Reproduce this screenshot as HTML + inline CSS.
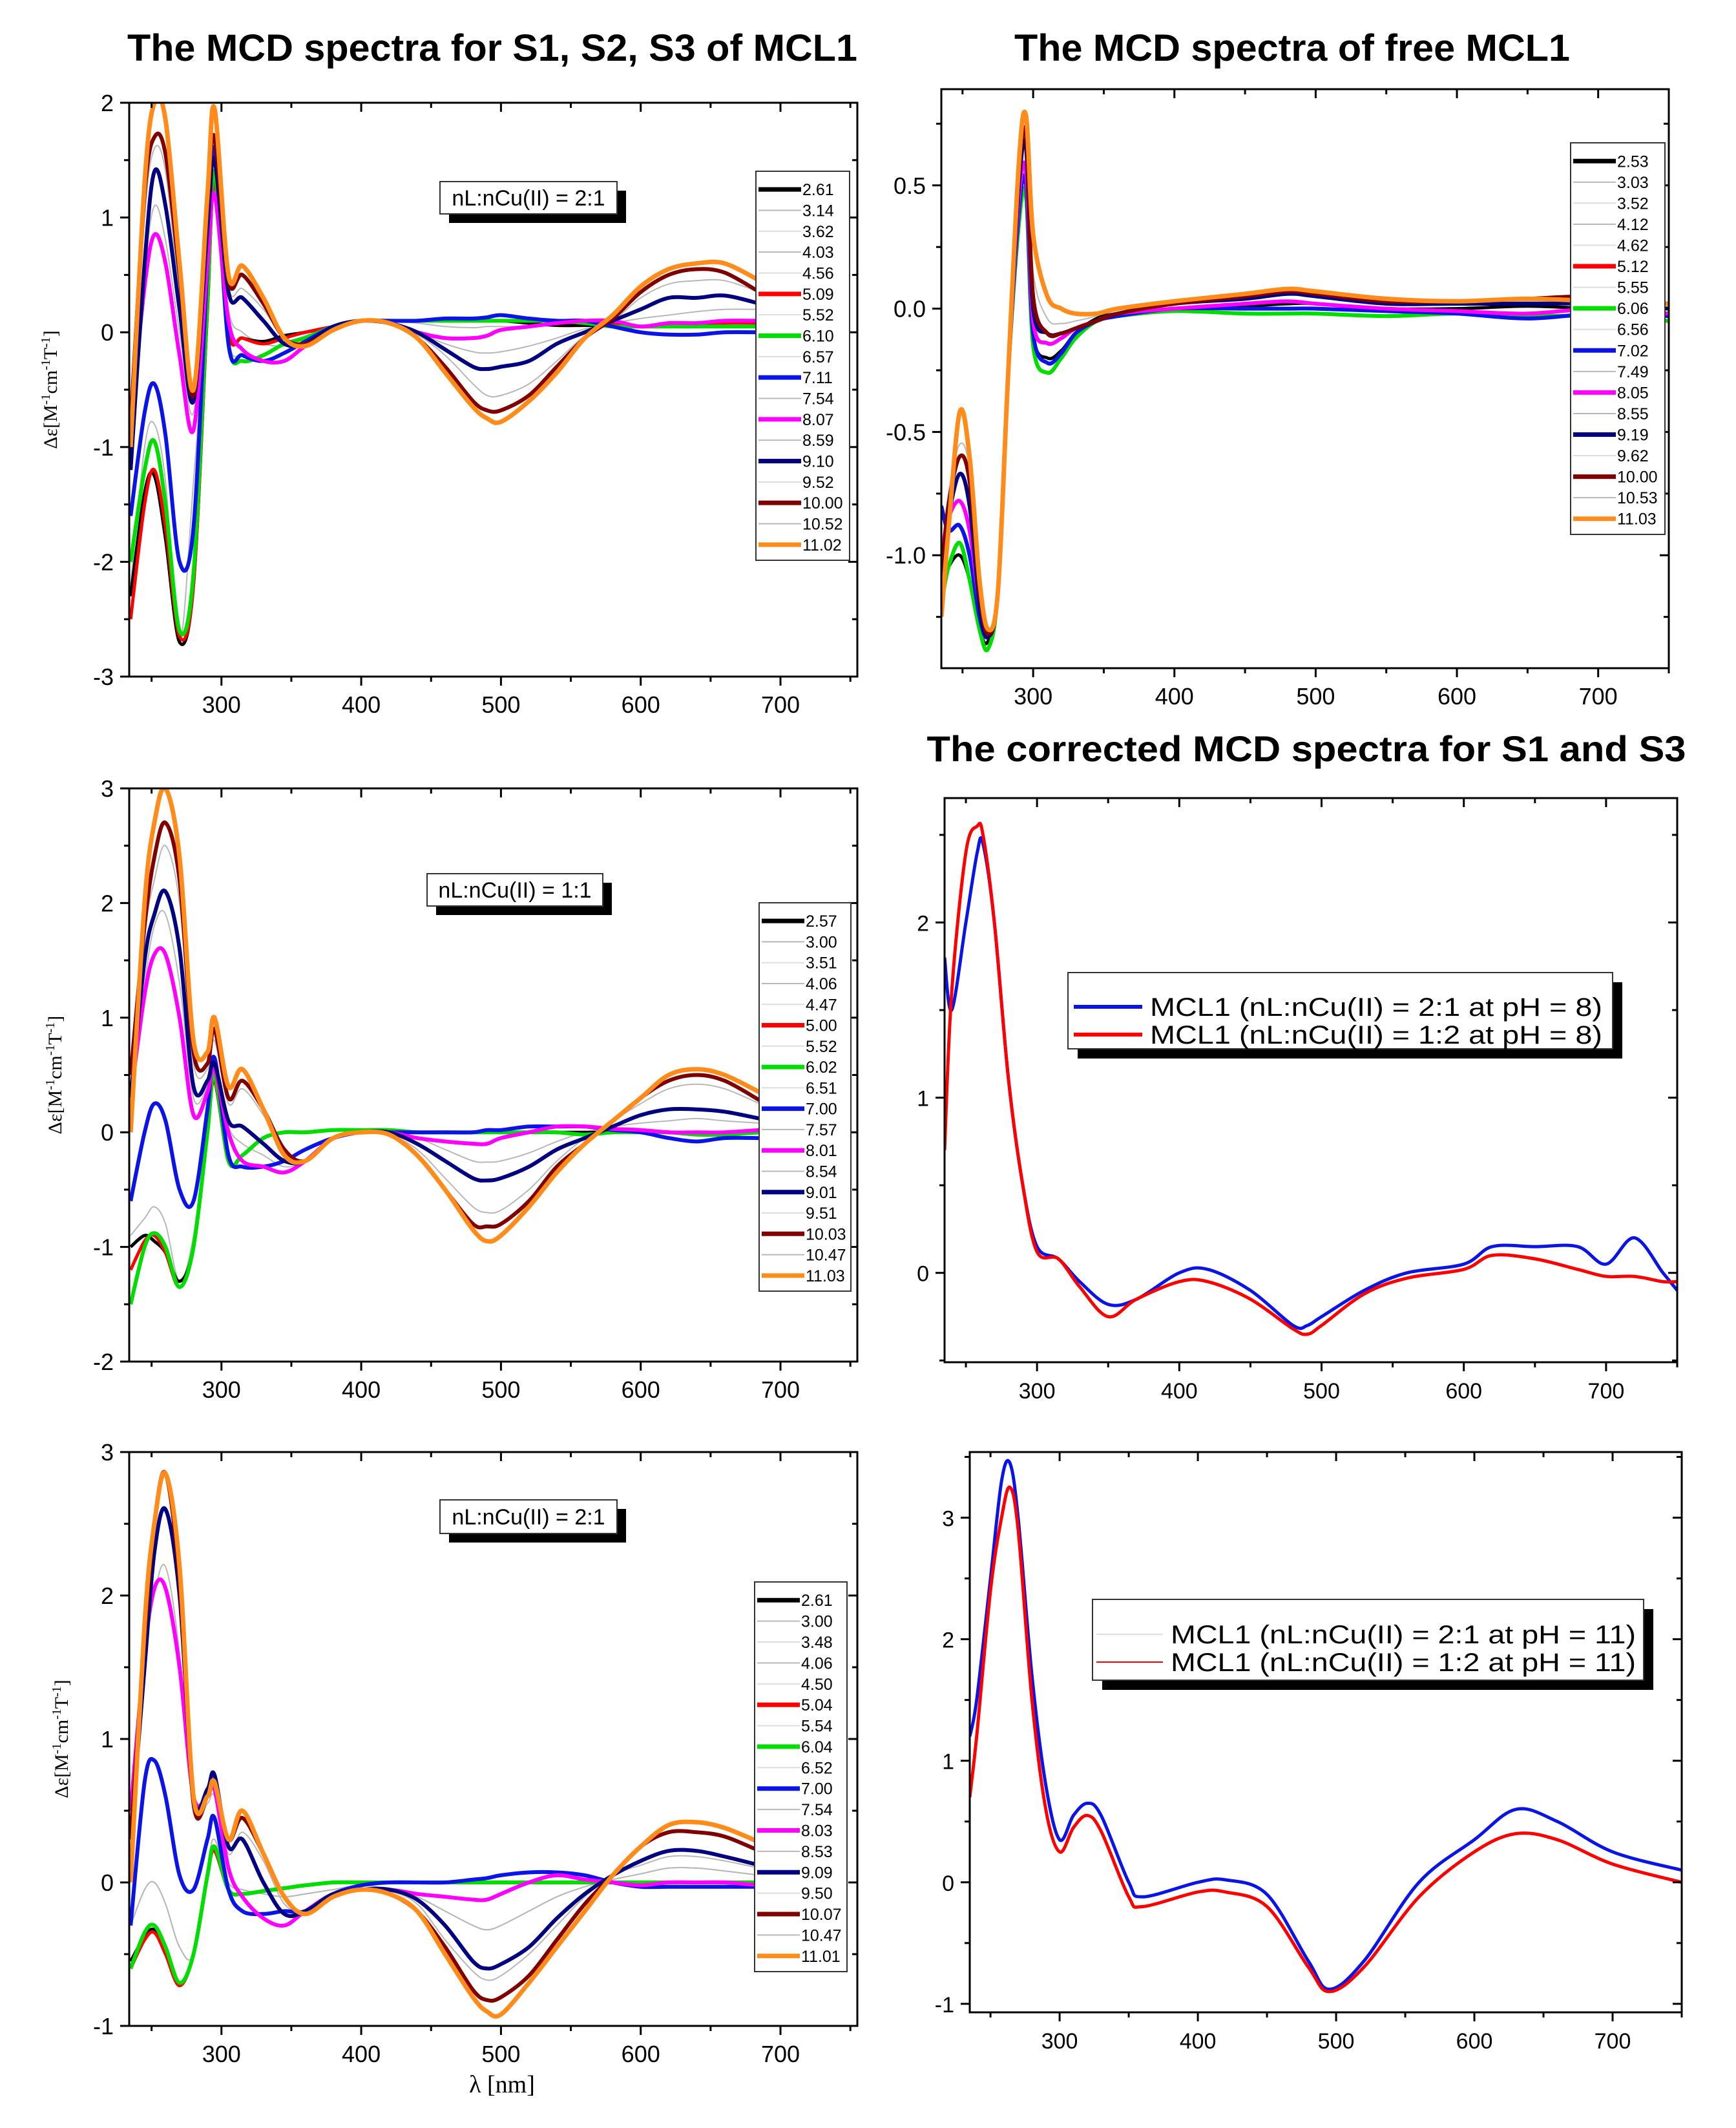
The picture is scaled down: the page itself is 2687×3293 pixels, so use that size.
<!DOCTYPE html>
<html><head><meta charset="utf-8"><style>
html,body{margin:0;padding:0;background:#fff;}
svg text{font-family:"Liberation Sans",Arial,sans-serif;}
</style></head><body>
<svg id="fig" xmlns="http://www.w3.org/2000/svg" width="2687" height="3288" viewBox="0 0 2687 3288">
<rect width="2687" height="3288" fill="#fff"/>
<text x="762" y="94" text-anchor="middle" font-size="58" font-weight="bold" textLength="1130" lengthAdjust="spacingAndGlyphs">The MCD spectra for S1, S2, S3 of MCL1</text>
<text x="2000" y="94" text-anchor="middle" font-size="58" font-weight="bold" textLength="860" lengthAdjust="spacingAndGlyphs">The MCD spectra of free MCL1</text>
<text x="2022" y="1178" text-anchor="middle" font-size="56" font-weight="bold" textLength="1175" lengthAdjust="spacingAndGlyphs">The corrected MCD spectra for S1 and S3</text>
<text x="777" y="3238" text-anchor="middle" font-size="38" font-family="Liberation Serif, serif" style="font-family:'Liberation Serif',serif">λ [nm]</text>
</svg>
<script>
// ---------- DATA ----------
const wlLeft = [235,245,252,260,270,280,290,295,305,315,330,345,360,380,400,420,440,460,480,490,500,520,540,560,580,600,620,640,660,685];
// Panel 1: S1 nL:nCu = 2:1
const p1Orange = [-1.0,1.3,2.0,1.85,0.6,-0.5,1.2,1.95,0.5,0.58,0.3,-0.05,-0.12,0.02,0.1,0.08,-0.05,-0.35,-0.65,-0.75,-0.78,-0.6,-0.35,-0.05,0.15,0.4,0.55,0.6,0.6,0.45];
const p1Maroon = [-0.8,1.2,1.7,1.55,0.5,-0.55,1.1,1.7,0.45,0.5,0.25,-0.05,-0.1,0.02,0.1,0.08,-0.05,-0.3,-0.6,-0.68,-0.68,-0.55,-0.3,-0.05,0.12,0.35,0.5,0.55,0.52,0.35];
const p1Navy = [-1.2,0.6,1.4,1.1,0.2,-0.6,0.9,1.5,0.35,0.3,0.1,-0.1,-0.1,0.05,0.1,0.08,0.0,-0.15,-0.3,-0.32,-0.3,-0.25,-0.1,0.0,0.1,0.2,0.3,0.3,0.32,0.25];
const p1Magenta = [-0.8,0.4,0.85,0.6,-0.2,-0.85,0.6,1.2,0.1,-0.15,-0.25,-0.25,-0.12,0.02,0.1,0.08,0.0,-0.05,-0.05,-0.03,0.02,0.05,0.08,0.1,0.1,0.05,0.08,0.08,0.1,0.1];
const p1Blue = [-1.6,-0.7,-0.45,-0.9,-2.0,-1.7,0.6,1.6,-0.1,-0.2,-0.25,-0.18,-0.08,0.05,0.1,0.1,0.1,0.12,0.12,0.13,0.15,0.12,0.1,0.1,0.05,0.0,-0.02,-0.02,0.0,0.0];
const p1Green = [-2.0,-1.2,-0.95,-1.5,-2.6,-2.1,0.3,1.4,-0.1,-0.25,-0.2,-0.1,-0.05,0.05,0.1,0.1,0.1,0.1,0.1,0.1,0.1,0.1,0.1,0.08,0.05,0.05,0.05,0.05,0.05,0.05];
const p1Red = [-2.5,-1.5,-1.2,-1.7,-2.65,-2.2,0.2,1.3,0.0,-0.05,-0.1,-0.05,0.0,0.05,0.1,0.1,0.1,0.1,0.1,0.1,0.1,0.1,0.1,0.1,0.08,0.05,0.05,0.05,0.08,0.08];
const p1Black = [-2.3,-1.4,-1.25,-1.8,-2.7,-2.2,0.2,1.3,0.0,-0.05,-0.08,-0.03,0.0,0.05,0.1,0.1,0.1,0.1,0.1,0.1,0.1,0.08,0.06,0.06,0.06,0.05,0.06,0.05,0.05,0.05];
const p1GreyA = [-1.0,1.0,1.6,1.4,0.3,-0.5,1.0,1.6,0.4,0.38,0.2,-0.05,-0.1,0.02,0.1,0.08,-0.02,-0.2,-0.45,-0.55,-0.55,-0.45,-0.25,-0.03,0.1,0.3,0.42,0.45,0.45,0.35];
const p1GreyB = [-1.0,0.5,1.1,0.8,0.0,-0.7,0.8,1.3,0.2,0.0,-0.1,-0.12,-0.08,0.03,0.1,0.08,0.0,-0.1,-0.17,-0.18,-0.17,-0.12,-0.05,0.03,0.08,0.12,0.15,0.18,0.2,0.2];
const p1GreyC = [-2.2,-1.0,-0.8,-1.3,-2.7,-1.3,0.3,1.35,-0.05,-0.2,-0.2,-0.1,-0.03,0.05,0.1,0.1,0.08,0.05,0.04,0.05,0.05,0.05,0.06,0.06,0.06,0.05,0.05,0.05,0.05,0.05];
// Panel 3: S2 nL:nCu = 1:1
const p3Orange = [0.0,2.0,2.7,3.0,2.4,0.8,0.7,1.0,0.4,0.55,0.2,-0.2,-0.25,-0.05,0.0,-0.02,-0.2,-0.5,-0.85,-0.95,-0.9,-0.65,-0.35,-0.1,0.1,0.3,0.5,0.55,0.5,0.35];
const p3Maroon = [0.5,1.8,2.4,2.7,2.2,0.7,0.6,0.9,0.3,0.45,0.2,-0.15,-0.25,-0.05,0.0,-0.02,-0.2,-0.5,-0.8,-0.82,-0.8,-0.6,-0.3,-0.1,0.1,0.3,0.45,0.5,0.45,0.28];
const p3Navy = [0.3,1.5,1.9,2.1,1.6,0.4,0.45,0.6,0.1,0.05,-0.1,-0.25,-0.25,-0.05,0.0,0.0,-0.1,-0.25,-0.4,-0.42,-0.4,-0.3,-0.15,-0.05,0.05,0.15,0.2,0.2,0.18,0.12];
const p3Magenta = [0.3,1.2,1.55,1.55,1.0,0.15,0.35,0.55,0.0,-0.25,-0.3,-0.35,-0.25,-0.05,0.0,0.0,-0.05,-0.08,-0.1,-0.1,-0.05,0.0,0.05,0.05,0.03,0.02,0.0,0.0,0.0,0.02];
const p3Blue = [-0.6,0.0,0.25,0.1,-0.5,-0.6,0.2,0.65,-0.2,-0.3,-0.3,-0.25,-0.15,-0.05,0.0,0.0,0.0,0.0,0.0,0.02,0.02,0.05,0.05,0.05,0.02,0.0,-0.05,-0.08,-0.05,-0.05];
const p3Green = [-1.5,-1.0,-0.88,-1.0,-1.35,-1.0,0.0,0.5,-0.25,-0.2,-0.05,0.0,0.0,0.02,0.02,0.02,0.0,0.0,0.0,0.0,0.0,0.0,0.0,-0.02,0.0,0.0,0.0,-0.02,-0.02,0.0];
const p3Red = [-1.2,-0.95,-0.9,-1.05,-1.35,-1.0,0.0,0.45,-0.25,-0.2,-0.05,0.0,0.0,0.02,0.02,0.02,0.0,0.0,0.0,0.0,0.0,0.0,0.0,-0.02,0.0,0.0,0.0,-0.02,-0.02,0.0];
const p3Black = [-1.0,-0.9,-0.95,-1.05,-1.3,-1.0,0.0,0.45,-0.25,-0.2,-0.05,0.0,0.0,0.02,0.02,0.02,0.0,0.0,0.0,0.0,0.0,0.0,0.0,0.0,0.0,0.0,0.0,0.0,0.0,0.0];
const p3GreyA = [0.2,1.7,2.2,2.5,2.0,0.6,0.55,0.8,0.25,0.38,0.15,-0.15,-0.25,-0.05,0.0,-0.02,-0.15,-0.4,-0.65,-0.7,-0.68,-0.5,-0.25,-0.05,0.1,0.25,0.38,0.42,0.38,0.25];
const p3GreyB = [0.3,1.3,1.8,1.9,1.3,0.3,0.4,0.55,0.05,-0.1,-0.2,-0.3,-0.25,-0.05,0.0,0.0,-0.05,-0.15,-0.25,-0.26,-0.25,-0.18,-0.08,0.0,0.05,0.08,0.1,0.12,0.1,0.08];
const p3GreyC = [-0.9,-0.75,-0.65,-0.8,-1.3,-0.9,0.05,0.45,-0.25,-0.2,-0.05,0.0,0.0,0.02,0.02,0.02,0.0,0.0,0.0,0.0,0.0,0.0,0.0,0.0,0.0,0.0,0.0,0.0,0.0,0.0];
// Panel 5: S3 nL:nCu = 2:1
const p5Orange = [0.0,1.8,2.5,2.85,2.2,0.6,0.6,0.7,0.3,0.5,0.2,-0.1,-0.22,-0.1,-0.05,-0.08,-0.2,-0.5,-0.8,-0.9,-0.92,-0.7,-0.45,-0.2,0.05,0.25,0.4,0.42,0.38,0.28];
const p5Maroon = [0.3,1.7,2.5,2.85,2.1,0.55,0.6,0.7,0.3,0.45,0.2,-0.1,-0.22,-0.1,-0.05,-0.08,-0.2,-0.45,-0.75,-0.82,-0.8,-0.65,-0.4,-0.15,0.05,0.25,0.35,0.35,0.32,0.22];
const p5Navy = [0.3,1.5,2.3,2.6,2.0,0.6,0.65,0.75,0.25,0.3,0.0,-0.22,-0.2,-0.08,-0.05,-0.05,-0.12,-0.3,-0.55,-0.6,-0.57,-0.45,-0.25,-0.08,0.05,0.15,0.22,0.22,0.18,0.12];
const p5Magenta = [0.5,1.6,2.05,2.05,1.5,0.6,0.6,0.65,0.1,-0.1,-0.25,-0.3,-0.2,-0.08,-0.05,-0.05,-0.08,-0.1,-0.12,-0.12,-0.08,0.0,0.05,0.02,0.0,-0.02,0.0,0.0,0.0,-0.02];
const p5Blue = [-0.3,0.7,0.85,0.6,0.05,-0.05,0.3,0.45,-0.05,-0.2,-0.22,-0.2,-0.2,-0.08,-0.02,0.0,0.0,0.0,0.02,0.03,0.05,0.07,0.07,0.05,0.0,-0.03,-0.03,-0.03,-0.03,-0.03];
const p5Green = [-0.6,-0.35,-0.3,-0.45,-0.7,-0.5,0.05,0.25,-0.05,-0.08,-0.06,-0.04,-0.02,0.0,0.0,0.0,0.0,0.0,0.0,0.0,0.0,0.0,0.0,0.0,0.0,0.0,0.0,0.0,0.0,0.0];
const p5Red = [-0.6,-0.4,-0.35,-0.5,-0.72,-0.5,0.05,0.22,-0.05,-0.08,-0.06,-0.04,-0.02,0.0,0.0,0.0,0.0,0.0,0.0,0.0,0.0,0.0,0.0,0.0,0.0,0.0,0.0,0.0,0.0,0.0];
const p5Black = [-0.55,-0.38,-0.33,-0.48,-0.7,-0.5,0.05,0.22,-0.05,-0.08,-0.06,-0.04,-0.02,0.0,0.0,0.0,0.0,0.0,0.0,0.0,0.0,0.0,0.0,0.0,0.0,0.0,0.0,0.0,0.0,0.0];
const p5GreyA = [0.1,1.5,2.0,2.2,1.6,0.5,0.55,0.6,0.2,0.35,0.15,-0.15,-0.2,-0.08,-0.05,-0.06,-0.15,-0.4,-0.62,-0.68,-0.65,-0.5,-0.3,-0.1,0.05,0.12,0.18,0.18,0.15,0.1];
const p5GreyB = [-0.3,-0.05,0.0,-0.15,-0.45,-0.5,0.1,0.3,0.0,-0.05,-0.08,-0.1,-0.08,-0.05,-0.02,-0.05,-0.1,-0.2,-0.3,-0.33,-0.3,-0.2,-0.1,-0.03,0.02,0.06,0.1,0.1,0.08,0.05];
// Panel 2: free MCL1
const wlFree = [235,240,248,255,262,268,275,282,290,295,300,310,320,330,345,360,400,450,480,500,550,600,650,700,750];
const p2Orange = [-1.25,-0.9,-0.42,-0.6,-1.1,-1.3,-1.15,-0.3,0.6,0.78,0.3,0.05,0.0,-0.02,-0.02,0.0,0.03,0.06,0.08,0.07,0.04,0.03,0.04,0.03,0.02];
const p2Maroon = [-1.1,-0.8,-0.6,-0.7,-1.15,-1.32,-1.15,-0.3,0.55,0.7,0.05,-0.1,-0.1,-0.08,-0.05,-0.02,0.02,0.05,0.07,0.06,0.03,0.03,0.04,0.05,0.02];
const p2Navy = [-1.1,-0.85,-0.67,-0.8,-1.2,-1.33,-1.15,-0.3,0.5,0.65,0.0,-0.1,-0.1,-0.08,-0.05,-0.02,0.02,0.04,0.06,0.05,0.02,0.02,0.02,0.02,0.0];
const p2Magenta = [-1.0,-0.85,-0.78,-0.9,-1.2,-1.33,-1.15,-0.3,0.45,0.55,-0.05,-0.14,-0.12,-0.08,-0.05,-0.02,0.0,0.02,0.03,0.02,0.0,-0.01,-0.02,0.0,-0.02];
const p2Blue = [-0.8,-0.9,-0.88,-1.0,-1.25,-1.33,-1.15,-0.3,0.4,0.5,-0.1,-0.22,-0.18,-0.1,-0.05,-0.03,0.0,0.0,0.0,0.0,-0.01,-0.02,-0.04,-0.02,-0.03];
const p2Green = [-1.2,-1.05,-0.95,-1.1,-1.3,-1.38,-1.15,-0.3,0.35,0.45,-0.15,-0.26,-0.2,-0.12,-0.05,-0.03,-0.01,-0.02,-0.02,-0.02,-0.03,-0.02,-0.03,-0.03,-0.05];
const p2Black = [-1.15,-1.05,-1.0,-1.1,-1.3,-1.35,-1.15,-0.3,0.4,0.5,-0.1,-0.2,-0.17,-0.1,-0.04,-0.02,0.0,0.01,0.02,0.02,0.0,0.0,0.01,0.0,0.0];
const p2Grey = [-1.0,-0.75,-0.55,-0.65,-1.1,-1.3,-1.15,-0.3,0.5,0.68,0.15,-0.04,-0.06,-0.05,-0.03,0.0,0.02,0.05,0.07,0.06,0.03,0.03,0.03,0.03,0.02];
// Panel 4: corrected pH 8
const wlP4 = [235,240,250,258,262,270,280,290,300,315,330,350,370,400,420,450,480,490,500,530,560,600,620,650,680,700,720,740,750];
const p4Blue = [1.8,1.5,2.0,2.4,2.45,2.0,1.1,0.5,0.15,0.08,-0.05,-0.18,-0.15,0.0,0.02,-0.1,-0.3,-0.3,-0.25,-0.1,0.0,0.05,0.15,0.15,0.15,0.05,0.2,0.0,-0.1];
const p4Red = [0.7,1.6,2.4,2.55,2.5,2.0,1.1,0.5,0.12,0.08,-0.08,-0.25,-0.15,-0.05,-0.05,-0.15,-0.32,-0.35,-0.3,-0.12,-0.03,0.02,0.1,0.08,0.02,-0.02,-0.02,-0.05,-0.05];
// Panel 6: corrected pH 11
const wlP6 = [235,240,250,258,264,270,280,290,300,310,320,330,350,360,400,420,450,480,495,520,560,600,630,660,700,750];
const p6Blue = [1.2,1.5,2.5,3.3,3.45,3.0,1.7,0.8,0.35,0.55,0.65,0.55,0.0,-0.12,0.0,0.02,-0.1,-0.65,-0.88,-0.65,0.0,0.35,0.6,0.5,0.25,0.1];
const p6Red = [0.7,1.2,2.4,3.0,3.25,2.9,1.5,0.6,0.25,0.45,0.55,0.42,-0.12,-0.2,-0.08,-0.08,-0.2,-0.7,-0.9,-0.7,-0.12,0.25,0.4,0.35,0.15,0.0];
// Legend labels
const leg1 = ["2.61","3.14","3.62","4.03","4.56","5.09","5.52","6.10","6.57","7.11","7.54","8.07","8.59","9.10","9.52","10.00","10.52","11.02"];
const leg2 = ["2.53","3.03","3.52","4.12","4.62","5.12","5.55","6.06","6.56","7.02","7.49","8.05","8.55","9.19","9.62","10.00","10.53","11.03"];
const leg3 = ["2.57","3.00","3.51","4.06","4.47","5.00","5.52","6.02","6.51","7.00","7.57","8.01","8.54","9.01","9.51","10.03","10.47","11.03"];
const leg5 = ["2.61","3.00","3.48","4.06","4.50","5.04","5.54","6.04","6.52","7.00","7.54","8.03","8.53","9.09","9.50","10.07","10.47","11.01"];
const leg4 = ["MCL1 (nL:nCu(II) = 2:1 at pH = 8)","MCL1 (nL:nCu(II) = 1:2 at pH = 8)"];
const leg6 = ["MCL1 (nL:nCu(II) = 2:1 at pH = 11)","MCL1 (nL:nCu(II) = 1:2 at pH = 11)"];
const yTicks1 = [-3,-2,-1,0,1,2];
const yTicks2 = [-1.0,-0.5,0.0,0.5];
const yTicks3 = [-2,-1,0,1,2,3];
const yTicks4 = [0,1,2];
const yTicks5 = [-1,0,1,2,3];
const yTicks6 = [-1,0,1,2,3];
const xTicks = [300,400,500,600,700];

// ---------- STYLES ----------
const C = {black:'#000',red:'#ff0000',green:'#00dd00',blue:'#0a14e6',magenta:'#ff00ff',navy:'#000080',maroon:'#800000',orange:'#ff8c1a',grey:'#b8b8b8',light:'#dddddd'};
const legStyle = ['black','grey','light','grey','light','red','light','green','light','blue','grey','magenta','grey','navy','light','maroon','grey','orange'];

const svg = document.getElementById('fig');
const NS = 'http://www.w3.org/2000/svg';
function mk(tag, attrs, parent){const e=document.createElementNS(NS,tag);for(const k in attrs)e.setAttribute(k,attrs[k]);(parent||svg).appendChild(e);return e;}

function smoothPath(pts){
  let d='M'+pts[0][0].toFixed(1)+','+pts[0][1].toFixed(1);
  for(let i=0;i<pts.length-1;i++){
    const p0=pts[i-1]||pts[i],p1=pts[i],p2=pts[i+1],p3=pts[i+2]||p2;
    const c1=[p1[0]+(p2[0]-p0[0])/6,p1[1]+(p2[1]-p0[1])/6];
    const c2=[p2[0]-(p3[0]-p1[0])/6,p2[1]-(p3[1]-p1[1])/6];
    d+=' C'+c1[0].toFixed(1)+','+c1[1].toFixed(1)+' '+c2[0].toFixed(1)+','+c2[1].toFixed(1)+' '+p2[0].toFixed(1)+','+p2[1].toFixed(1);
  }
  return d;
}

function panel(cfg){
  const g = mk('g',{});
  
  
  const sx = v => cfg.L + (v - cfg.x0)/(cfg.x1 - cfg.x0)*(cfg.R - cfg.L);
  const sy = v => cfg.B - (v - cfg.y0)/(cfg.y1 - cfg.y0)*(cfg.B - cfg.T);
  const clipId = cfg.name+'-clip';
  const cp = mk('clipPath',{id:clipId},g);
  mk('rect',{x:cfg.L,y:cfg.T,width:cfg.R-cfg.L,height:cfg.B-cfg.T},cp);
  const sg = mk('g',{'clip-path':'url(#'+clipId+')'},g);
  cfg.series.forEach(s=>{
    const pts = s.x.map((w,i)=>[sx(w), sy(s.y[i])]);
    const p = mk('path',{d:smoothPath(pts),fill:'none',stroke:C[s.c],'stroke-width':s.w,'stroke-linejoin':'round'},sg);
    
    
  });
  const fr = mk('rect',{x:cfg.L,y:cfg.T,width:cfg.R-cfg.L,height:cfg.B-cfg.T,fill:'none',stroke:'#000','stroke-width':3},g);
  
  
  // x ticks
  for(let v=250; v<=750; v+=50){
    if(v<cfg.x0||v>cfg.x1) continue;
    const major = v%100===0, len = major?14:8, x=sx(v);
    mk('line',{x1:x,y1:cfg.B,x2:x,y2:cfg.B+len,stroke:'#000','stroke-width':3},g);
    mk('line',{x1:x,y1:cfg.T,x2:x,y2:cfg.T+len,stroke:'#000','stroke-width':3},g);
  }
  xTicks.forEach(v=>{
    const t = mk('text',{x:sx(v),y:cfg.B+56,'text-anchor':'middle','font-size':cfg.fs||36},g);
    t.textContent = v;
    
    
  });
  // y ticks
  const st = cfg.ystep;
  for(let v=Math.ceil(cfg.y0/(st/2))*(st/2); v<=cfg.y1+1e-9; v+=st/2){
    const y=sy(v), major = Math.abs(Math.round(v/st)*st - v)<1e-6, len=major?14:8;
    mk('line',{x1:cfg.L-len,y1:y,x2:cfg.L,y2:y,stroke:'#000','stroke-width':3},g);
    mk('line',{x1:cfg.R-len,y1:y,x2:cfg.R,y2:y,stroke:'#000','stroke-width':3},g);
  }
  cfg.yt.forEach(v=>{
    const t = mk('text',{x:cfg.L-24,y:sy(v)+13,'text-anchor':'end','font-size':cfg.fs||36},g);
    t.textContent = cfg.fmt ? v.toFixed(1) : String(v);
    
    
  });
  if(cfg.ylab){
    const cy=(cfg.T+cfg.B)/2;
    const t = mk('text',{x:cfg.ylabX,y:cy,'text-anchor':'middle','font-size':30,transform:'rotate(-90 '+cfg.ylabX+' '+cy+')',style:"font-family:'Liberation Serif',serif"},g);
    t.innerHTML = 'Δε[M<tspan baseline-shift="super" font-size="20">-1</tspan>cm<tspan baseline-shift="super" font-size="20">-1</tspan>T<tspan baseline-shift="super" font-size="20">-1</tspan>]';
    
    
  }
  return g;
}

function pHLegend(g, box, labels){
  const lg = mk('g',{},g);
  
  
  mk('rect',{x:box.x,y:box.y,width:box.w,height:box.h,fill:'#fff',stroke:'#333','stroke-width':2},lg);
  const step = (box.h-20)/labels.length;
  labels.forEach((lab,i)=>{
    const y = box.y+12+step*(i+0.5);
    const st = legStyle[i];
    const thick = (st==='grey'||st==='light')?2:7;
    const e = mk('g',{},lg);
    
    
    mk('line',{x1:box.x+4,y1:y,x2:box.x+70,y2:y,stroke:C[st],'stroke-width':thick},e);
    const t = mk('text',{x:box.x+72,y:y+9,'font-size':25},e);
    t.textContent = lab;
  });
}

function ratioBox(g, x, y, w, h, label){
  const bg = mk('g',{},g);
  
  
  mk('rect',{x:x+14,y:y+14,width:w,height:h,fill:'#000'},bg);
  mk('rect',{x:x,y:y,width:w,height:h,fill:'#fff',stroke:'#333','stroke-width':2},bg);
  const t = mk('text',{x:x+w/2,y:y+h/2+12,'text-anchor':'middle','font-size':34},bg);
  t.textContent = label;
}

function ser(n,x,y,c,w){return {n:n,x:x,y:y,c:c,w:w};}
function leftSeries(pfx, d){
  return [
    ser(pfx+'grey-a',wlLeft,d.ga,'grey',2), ser(pfx+'grey-b',wlLeft,d.gb,'grey',2), ser(pfx+'grey-c',wlLeft,d.gc,'grey',2),
    ser(pfx+'black',wlLeft,d.k,'black',5), ser(pfx+'red',wlLeft,d.r,'red',5), ser(pfx+'green',wlLeft,d.g,'green',6),
    ser(pfx+'blue',wlLeft,d.b,'blue',6), ser(pfx+'magenta',wlLeft,d.m,'magenta',6), ser(pfx+'navy',wlLeft,d.n,'navy',6),
    ser(pfx+'maroon',wlLeft,d.mr,'maroon',6), ser(pfx+'orange',wlLeft,d.o,'orange',7)
  ];
}

// Panel 1
let g1 = panel({name:'chart-s1',L:200,R:1327,T:159,B:1047,x0:234,x1:755,y0:-3,y1:2,ystep:1,yt:yTicks1,ylab:true,ylabX:88,
  series:leftSeries('s1-',{ga:p1GreyA,gb:p1GreyB,gc:p1GreyC,k:p1Black,r:p1Red,g:p1Green,b:p1Blue,m:p1Magenta,n:p1Navy,mr:p1Maroon,o:p1Orange})});
ratioBox(g1,681,281,274,50,'nL:nCu(II) = 2:1');
pHLegend(g1,{x:1170,y:265,w:145,h:602},leg1);

// Panel 3
let g3 = panel({name:'chart-s2',L:200,R:1327,T:1220,B:2107,x0:234,x1:755,y0:-2,y1:3,ystep:1,yt:yTicks3,ylab:true,ylabX:95,
  series:leftSeries('s2-',{ga:p3GreyA,gb:p3GreyB,gc:p3GreyC,k:p3Black,r:p3Red,g:p3Green,b:p3Blue,m:p3Magenta,n:p3Navy,mr:p3Maroon,o:p3Orange})});
ratioBox(g3,661,1352,272,50,'nL:nCu(II) = 1:1');
pHLegend(g3,{x:1175,y:1397,w:142,h:601},leg3);

// Panel 5
let g5 = panel({name:'chart-s3',L:200,R:1327,T:2247,B:3135,x0:234,x1:755,y0:-1,y1:3,ystep:1,yt:yTicks5,ylab:true,ylabX:105,
  series:leftSeries('s3-',{ga:p5GreyA,gb:p5GreyB,gc:p5GreyB,k:p5Black,r:p5Red,g:p5Green,b:p5Blue,m:p5Magenta,n:p5Navy,mr:p5Maroon,o:p5Orange})});
ratioBox(g5,681,2321,274,52,'nL:nCu(II) = 2:1');
pHLegend(g5,{x:1168,y:2448,w:143,h:603},leg5);

// Panel 2
let g2 = panel({name:'chart-free',L:1457,R:2583,T:138,B:1034,x0:235,x1:750,y0:-1.458,y1:0.89,ystep:0.5,yt:yTicks2,fmt:true,
  series:[ser('free-grey',wlFree,p2Grey,'grey',2),ser('free-black',wlFree,p2Black,'black',5),ser('free-green',wlFree,p2Green,'green',6),
    ser('free-blue',wlFree,p2Blue,'blue',6),ser('free-magenta',wlFree,p2Magenta,'magenta',6),ser('free-navy',wlFree,p2Navy,'navy',6),
    ser('free-maroon',wlFree,p2Maroon,'maroon',6),ser('free-orange',wlFree,p2Orange,'orange',7)]});
pHLegend(g2,{x:2431,y:221,w:146,h:606},leg2);

// Panel 4
let g4 = panel({name:'chart-corrected-ph8',L:1462,R:2596,T:1235,B:2108,x0:235,x1:750,y0:-0.51,y1:2.71,ystep:1,yt:yTicks4,fs:34,
  series:[ser('ph8-blue',wlP4,p4Blue,'blue',5),ser('ph8-red',wlP4,p4Red,'red',5)]});
(function(){
  const lg = mk('g',{},g4);
  
  
  mk('rect',{x:1668,y:1520,width:843,height:118,fill:'#000'},lg);
  mk('rect',{x:1653,y:1505,width:843,height:118,fill:'#fff',stroke:'#333','stroke-width':2},lg);
  [['blue',1562],['red',1605]].forEach((e,i)=>{
    mk('line',{x1:1662,y1:e[1]-4,x2:1768,y2:e[1]-4,stroke:C[e[0]],'stroke-width':6},lg);
    const t = mk('text',{x:1780,y:e[1]+10,'font-size':40,textLength:700,lengthAdjust:'spacingAndGlyphs'},lg);
    t.textContent = leg4[i];
  });
})();

// Panel 6
let g6 = panel({name:'chart-corrected-ph11',L:1501,R:2603,T:2247,B:3114,x0:235,x1:750,y0:-1.07,y1:3.54,ystep:1,yt:yTicks6,fs:34,
  series:[ser('ph11-blue',wlP6,p6Blue,'blue',5),ser('ph11-red',wlP6,p6Red,'red',5)]});
(function(){
  const lg = mk('g',{},g6);
  
  
  mk('rect',{x:1706,y:2490,width:853,height:125,fill:'#000'},lg);
  mk('rect',{x:1691,y:2475,width:853,height:125,fill:'#fff',stroke:'#333','stroke-width':2},lg);
  [['light',2533],['red',2576]].forEach((e,i)=>{
    mk('line',{x1:1697,y1:e[1]-4,x2:1800,y2:e[1]-4,stroke:C[e[0]],'stroke-width':2},lg);
    const t = mk('text',{x:1812,y:e[1]+10,'font-size':40,textLength:720,lengthAdjust:'spacingAndGlyphs'},lg);
    t.textContent = leg6[i];
  });
})();
</script>
</body></html>
